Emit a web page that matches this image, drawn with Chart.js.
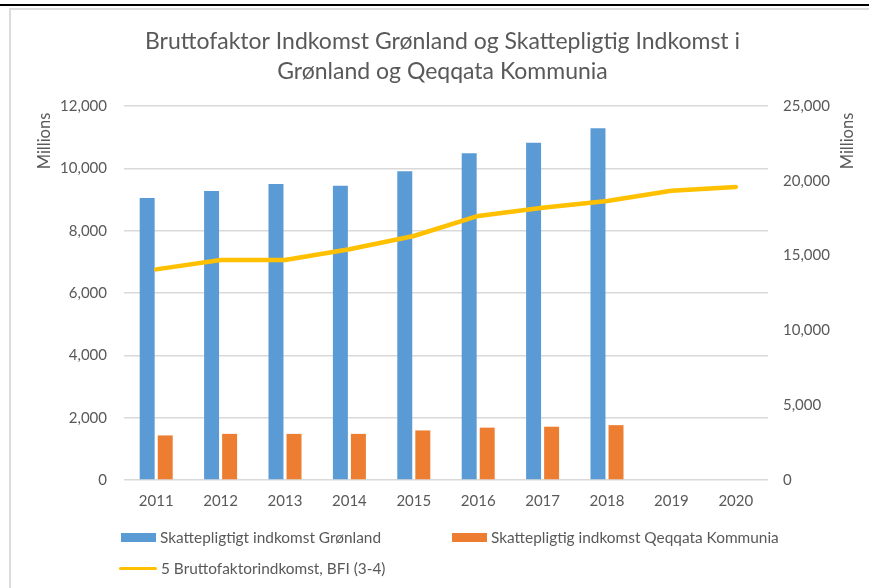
<!DOCTYPE html>
<html>
<head>
<meta charset="utf-8">
<script src="https://cdn.jsdelivr.net/npm/chart.js@4.4.1/dist/chart.umd.min.js"></script>
<style>
  html, body { margin: 0; padding: 0; background: #fff; }
  #wrap { position: relative; width: 869px; height: 588px; overflow: hidden; }
  #topline { position: absolute; left: 0; top: 4px; width: 869px; height: 2px; background: #000; }
  #frame { position: absolute; left: 9px; top: 8px; width: 900px; height: 600px;
           border: 2px solid #dcdcdc; box-sizing: border-box; }
  #grafico { position: absolute; left: 0; top: 0; }
  #legenda { position: absolute; left: 0; top: 0; width: 869px; height: 588px; pointer-events: none;
             font-family: Lato, "Open Sans", sans-serif; font-size: 15.4px; color: #595959; }
  .item { position: absolute; display: flex; align-items: center; white-space: nowrap; }
  .marca { display: inline-block; margin-right: 4px; }
</style>
</head>
<body>
<div id="wrap">
  <div id="topline"></div>
  <div id="frame"></div>
  <canvas id="grafico" width="869" height="588"></canvas>
  <div id="legenda"></div>
</div>
<script>
const anos = ["2011", "2012", "2013", "2014", "2015", "2016", "2017", "2018", "2019", "2020"];
const indkomstGronland = [9050, 9270, 9500, 9440, 9910, 10480, 10820, 11290, null, null];
const indkomstQeqqata = [1430, 1480, 1480, 1480, 1590, 1680, 1710, 1760, null, null];
const bruttofaktor = [14080, 14710, 14710, 15420, 16310, 17650, 18200, 18650, 19340, 19590];

const titulo = [
  "Bruttofaktor Indkomst Grønland og Skattepligtig Indkomst i",
  "Grønland og Qeqqata Kommunia",
];

const cinza = "#595959";
const fonte = "Lato, 'Open Sans', sans-serif";

// rotulos "Millions" no topo dos dois eixos
const millionsPlugin = {
  id: "millions",
  afterDraw(chart) {
    const c = chart.ctx;
    const area = chart.chartArea;
    c.save();
    c.fillStyle = cinza;
    c.font = "16.5px " + fonte;
    c.textAlign = "center";
    c.textBaseline = "middle";
    [45, 848].forEach((x) => {
      c.save();
      c.translate(x, area.top + 35);
      c.rotate(-Math.PI / 2);
      c.fillText("Millions", 0, 0);
      c.restore();
    });
    c.restore();
  },
};

const ctx = document.getElementById("grafico").getContext("2d");

let grafico = new Chart(ctx, {
  data: {
    labels: anos,
    datasets: [
      {
        type: "bar",
        label: "Skattepligtigt indkomst Grønland",
        data: indkomstGronland,
        backgroundColor: "#5b9bd5",
        yAxisID: "y",
        categoryPercentage: 0.56,
        barPercentage: 0.83,
        order: 2,
      },
      {
        type: "bar",
        label: "Skattepligtig indkomst Qeqqata Kommunia",
        data: indkomstQeqqata,
        backgroundColor: "#ed7d31",
        yAxisID: "y",
        categoryPercentage: 0.56,
        barPercentage: 0.83,
        order: 2,
      },
      {
        type: "line",
        label: "5 Bruttofaktorindkomst, BFI (3-4)",
        data: bruttofaktor,
        borderColor: "#ffc000",
        backgroundColor: "#ffc000",
        borderWidth: 4.5,
        pointRadius: 0,
        tension: 0,
        borderCapStyle: "round",
        borderJoinStyle: "round",
        yAxisID: "y1",
        order: 1,
      },
    ],
  },
  options: {
    responsive: false,
    animation: false,
    layout: { padding: { left: 16, right: 0, top: 0, bottom: 78 } },
    plugins: {
      legend: { display: false },
      tooltip: { enabled: false },
      title: {
        display: true,
        text: titulo,
        color: cinza,
        font: { family: fonte, size: 23, weight: "normal", lineHeight: 30 / 23 },
        padding: { top: 27, bottom: 19 },
      },
    },
    scales: {
      x: {
        grid: { display: false, drawTicks: false },
        border: { display: false },
        ticks: { color: cinza, font: { family: fonte, size: 15 }, padding: 12, maxRotation: 0 },
        afterFit(scale) { scale.height = 30; },
      },
      y: {
        position: "left",
        min: 0,
        max: 12000,
        ticks: {
          stepSize: 2000,
          color: cinza,
          font: { family: fonte, size: 15 },
          padding: 17,
          callback: (v) => v.toLocaleString("en-US"),
        },
        grid: { color: "#d9d9d9", lineWidth: 1.5, drawTicks: false },
        border: { display: false },
        afterFit(scale) { scale.width = 108; },
      },
      y1: {
        position: "right",
        min: 0,
        max: 25000,
        ticks: {
          stepSize: 5000,
          color: cinza,
          font: { family: fonte, size: 15 },
          padding: 15,
          callback: (v) => v.toLocaleString("en-US"),
        },
        grid: { display: false, drawTicks: false },
        border: { display: false },
        afterFit(scale) { scale.width = 101; },
      },
    },
  },
  plugins: [millionsPlugin],
});

// legenda em html, alinhada em duas colunas
const legenda = document.getElementById("legenda");
const posicoes = [
  { left: 121, top: 537 },
  { left: 452, top: 537 },
  { left: 119, top: 568 },
];
grafico.data.datasets.forEach((ds, i) => {
  const item = document.createElement("div");
  item.className = "item";
  item.style.left = posicoes[i].left + "px";
  item.style.top = posicoes[i].top - 10 + "px";
  item.style.height = "20px";
  const marca = document.createElement("span");
  marca.className = "marca";
  if (ds.type === "line") {
    marca.style.width = "38px";
    marca.style.height = "3px";
    marca.style.borderRadius = "2px";
  } else {
    marca.style.width = "35px";
    marca.style.height = "9px";
  }
  marca.style.background = ds.backgroundColor;
  const texto = document.createElement("span");
  texto.innerText = ds.label;
  item.appendChild(marca);
  item.appendChild(texto);
  legenda.appendChild(item);
});
</script>
</body>
</html>
